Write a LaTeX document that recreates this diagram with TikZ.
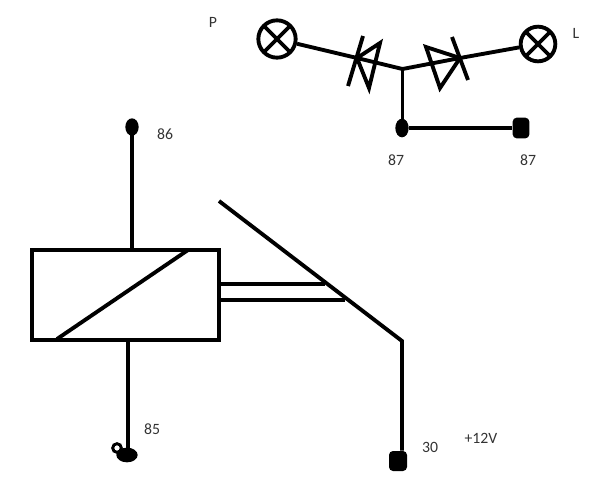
\documentclass[tikz,border=0pt]{standalone}
\usepackage{fontspec}
\setmainfont{Carlito}
\usetikzlibrary{shapes.geometric}

\tikzset{
	wire/.style={line width=2.9pt,line join=miter},
	lamp/.style={circle,draw,line width=2.9pt,minimum size=28pt,inner sep=0pt,
		path picture={
			\draw[line width=2.9pt] (path picture bounding box.north west) -- (path picture bounding box.south east);
			\draw[line width=2.9pt] (path picture bounding box.north east) -- (path picture bounding box.south west);
		}},
	blob/.style={ellipse,fill=black,inner sep=0pt},
	lump/.style={rectangle,rounded corners=3pt,fill=black,inner sep=0pt},
	pinlabel/.style={font=\fontsize{11.8}{13}\selectfont,text=black!80,inner sep=0pt},
}

\begin{document}
\begin{tikzpicture}[x=0.75pt,y=-0.75pt]
		\useasboundingbox (0,0) rectangle (605,500);
		% relay coil
		\node[draw,line width=3pt,minimum width=140.25pt,minimum height=67.5pt,inner sep=0pt] (coil) at (125.5,295) {};
		\coordinate (coilA) at (57,339);
		\coordinate (coilB) at (188,250);
		\draw[wire] (coilA) -- (coilB);
		\node[blob,minimum width=10pt,minimum height=13pt] (pin86) at (132,127) {};
		\node[blob,minimum width=16pt,minimum height=11pt] (pin85) at (127,455) {};
		\node[circle,draw,line width=2.2pt,minimum size=6.5pt,inner sep=0pt] (ring85) at (117,448) {};
		\coordinate (top86) at (132,250);
		\coordinate (bot85) at (128,340);
		\draw[wire] (top86) -- (top86 |- pin86);
		\draw[wire] (bot85) -- (bot85 |- pin85);
		% switch
		\coordinate (armTip) at (219,201);
		\coordinate (armEnd) at (402,341);
		\node[lump,minimum width=13.5pt,minimum height=15pt] (pin30) at (398,461) {};
		\draw[wire] (armTip) -- (armEnd) -- (armEnd |- pin30.north);
		\coordinate (linkA) at (219,284);
		\coordinate (linkB) at (325,284);
		\coordinate (linkC) at (217,300);
		\coordinate (linkD) at (345,300);
		\draw[wire] (linkA) -- (linkB);
		\draw[wire] (linkC) -- (linkD);
		% lamps and diodes
		\node[lamp] (lampP) at (277,39) {};
		\node[lamp,minimum size=26pt] (lampL) at (538,44) {};
		\coordinate (joint) at (402.5,69);
		\coordinate (diodeP) at (357,58);
		\coordinate (diodeL) at (460,58);
		\draw[wire] (lampP) -- (diodeP) -- (joint) -- (diodeL) -- (lampL);
		\coordinate (barPa) at (363,36);
		\coordinate (barPb) at (348,86);
		\coordinate (triPa) at (380,43);
		\coordinate (triPb) at (369,88);
		\draw[wire] (barPa) -- (barPb);
		\draw[wire] (diodeP) -- (triPa) -- (triPb) -- cycle;
		\coordinate (barLa) at (452,37);
		\coordinate (barLb) at (468,80);
		\coordinate (triLa) at (426,47);
		\coordinate (triLb) at (440,88);
		\draw[wire] (barLa) -- (barLb);
		\draw[wire] (diodeL) -- (triLa) -- (triLb) -- cycle;
		\node[blob,minimum width=10pt,minimum height=14pt] (pin87a) at (402,128) {};
		\node[lump,minimum width=12.5pt,minimum height=15.5pt] (pin87b) at (521,128) {};
		\draw[wire] (joint) -- (joint |- pin87a);
		\draw[wire] (pin87a) -- (pin87b);
		% labels
		\node[pinlabel] (labP) at (213,22) {P};
		\node[pinlabel] (labL) at (576,33) {L};
		\node[pinlabel] (lab87a) at (396,160) {87};
		\node[pinlabel] (lab87b) at (528,160) {87};
		\node[pinlabel] (lab86) at (165,134) {86};
		\node[pinlabel] (lab85) at (152,429) {85};
		\node[pinlabel] (lab30) at (430,447) {30};
		\node[pinlabel] (lab12) at (481,438) {+12V};
		\end{tikzpicture}
\end{document}
